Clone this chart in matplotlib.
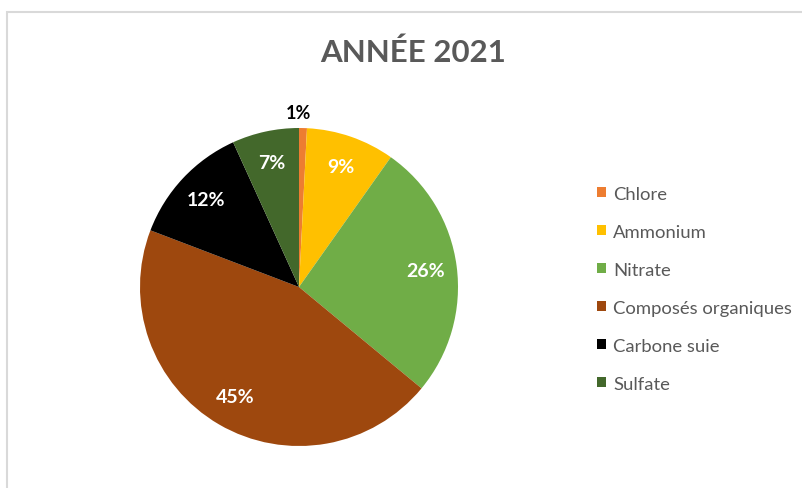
import matplotlib.pyplot as plt
from matplotlib.patches import Rectangle

categories = ["Chlore", "Ammonium", "Nitrate", "Composés organiques", "Carbone suie", "Sulfate"]
values = [0.8, 9.0, 26.2, 44.8, 12.4, 6.8]
colors = ["#ED7D31", "#FFC000", "#70AD47", "#9E480E", "#000000", "#43682B"]
title = "ANNÉE 2021"

plt.rcParams["font.family"] = ["Lato", "DejaVu Sans"]

W, H = 803, 489
fig = plt.figure(figsize=(W / 100, H / 100), dpi=100)

# chart frame (cut off at right/bottom like the screenshot)
fig.add_artist(Rectangle((7 / W, -0.1), 1.2, (H - 13) / H + 0.1, transform=fig.transFigure,
                         fill=False, edgecolor="#D9D9D9", linewidth=1.5))

cx, cy, r = 299, 288, 159
ax = fig.add_axes([(cx - r) / W, (H - cy - r) / H, 2 * r / W, 2 * r / H])

wedges, texts, autotexts = ax.pie(values, colors=colors, startangle=90, counterclock=False,
                                  autopct="%.0f%%", pctdistance=0.8,
                                  textprops=dict(color="white", fontsize=14, fontweight="bold"))
ax.set_xlim(-1, 1)
ax.set_ylim(-1, 1)

# tiny slice label goes outside
autotexts[0].set_position((0.0, 1.1))
autotexts[0].set_color("black")
autotexts[0].set_fontsize(13)
for t in autotexts:
    t.set_clip_on(False)

fig.text(413 / W, 1 - 53 / H, title, ha="center", va="center", fontsize=22.5,
         fontweight="bold", color="#595959")

leg = fig.legend(wedges, categories, loc="upper left", bbox_to_anchor=(580 / W, 1 - 170 / H),
                 frameon=False, fontsize=13.3, handlelength=0.5, handleheight=0.5,
                 handletextpad=0.4, labelspacing=1.19, labelcolor="#595959")

fig.savefig("out.png", dpi=100)
